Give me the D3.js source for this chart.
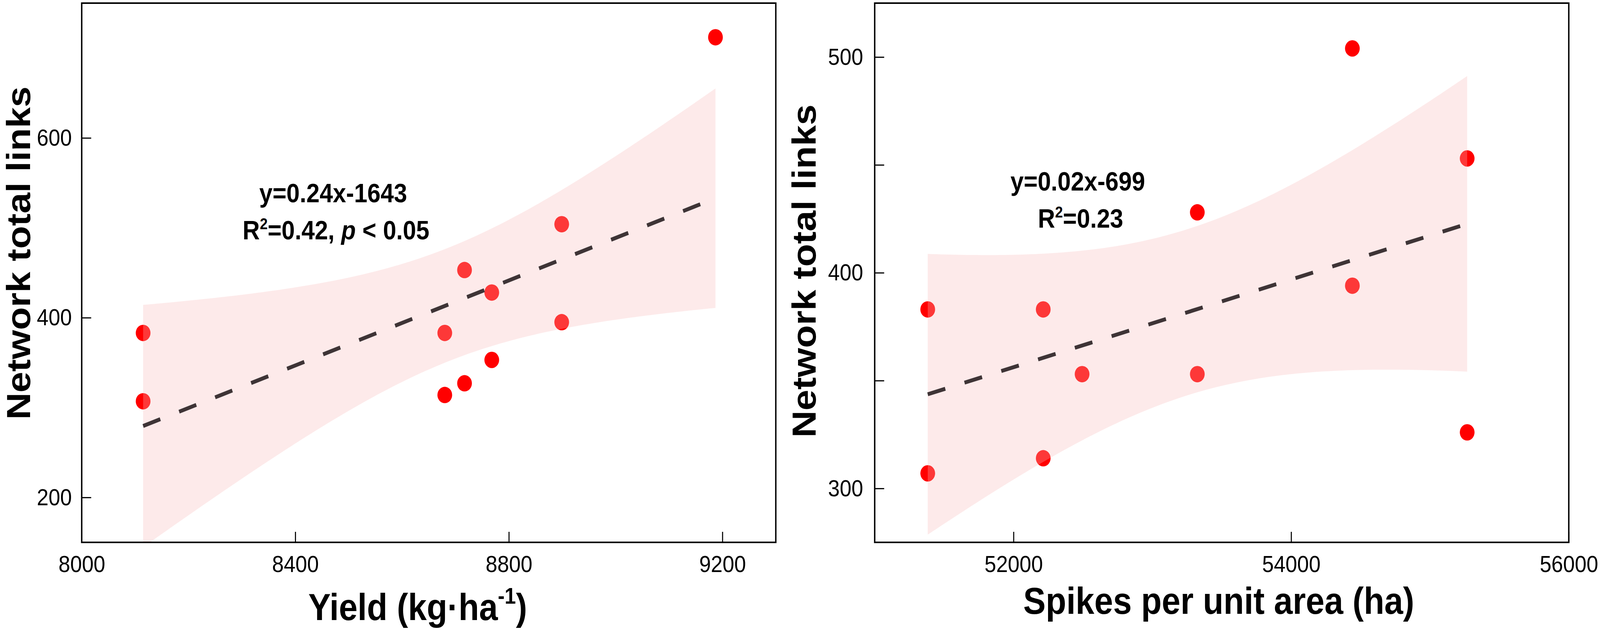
<!DOCTYPE html>
<html>
<head>
<meta charset="utf-8">
<script src="https://cdn.jsdelivr.net/npm/d3@7"></script>
<style>
  html, body { margin: 0; padding: 0; background: #fff; overflow: hidden; }
  svg { display: block; width: 100vw; height: 100vh; }
  text { font-family: "Liberation Sans", Arial, sans-serif; }
</style>
</head>
<body>
<script>
// values
const yieldX = [8115, 8115, 8680, 8680, 8717, 8717, 8768, 8768, 8899, 8899, 9187];
const yieldLinks = [383, 307, 383, 314, 453, 327, 428, 353, 504, 395, 712];
const spikesX = [51382, 51382, 52214, 52214, 52494, 53324, 53324, 54441, 54441, 55268, 55268];
const spikesLinks = [383, 307, 383, 314, 353, 428, 353, 504, 394, 453, 326];

const yieldTicks = [8000, 8400, 8800, 9200];
const linksTicksA = [200, 400, 600];
const spikesTicks = [52000, 54000, 56000];
const linksTicksB = [300, 350, 400, 450, 500];
const linksLabelsB = [300, 400, 500];

const T975 = 2.262; // t quantile, df = 9

const W = 4562, H = 1616;
// stretch the drawing to the whole window
const svg = d3.select("body").append("svg")
  .attr("viewBox", `0 0 ${W} ${H}`)
  .attr("preserveAspectRatio", "none");

// least squares fit + 95% confidence band of the mean
function fit(xs, ys) {
  const n = xs.length;
  const mx = d3.mean(xs), my = d3.mean(ys);
  let sxx = 0, sxy = 0;
  xs.forEach((x, i) => { sxx += (x - mx) ** 2; sxy += (x - mx) * (ys[i] - my); });
  const b = sxy / sxx, a = my - b * mx;
  let sse = 0;
  xs.forEach((x, i) => { sse += (ys[i] - (a + b * x)) ** 2; });
  const s = Math.sqrt(sse / (n - 2));
  return {
    at: x => a + b * x,
    half: x => T975 * s * Math.sqrt(1 / n + (x - mx) ** 2 / sxx)
  };
}

function panel(o) {
  const x = d3.scaleLinear().domain(o.xDomain).range([o.left, o.right]);
  const y = d3.scaleLinear().domain(o.yDomain).range([o.bottom, o.top]);
  const g = svg.append("g");

  g.append("clipPath").attr("id", o.id)
    .append("rect")
    .attr("x", o.left).attr("y", o.top)
    .attr("width", o.right - o.left).attr("height", o.bottom - o.top);

  const f = fit(o.xs, o.ys);
  const [x0, x1] = d3.extent(o.xs);
  const xsBand = d3.range(0, 121).map(i => x0 + (x1 - x0) * i / 120);

  const plot = g.append("g").attr("clip-path", `url(#${o.id})`);

  // points (under the band)
  plot.selectAll("circle").data(o.xs).join("circle")
    .attr("cx", d => x(d))
    .attr("cy", (d, i) => y(o.ys[i]))
    .attr("r", 21)
    .attr("fill", "#ff0000");

  // confidence band
  const area = d3.area()
    .x(d => x(d))
    .y0(d => y(f.at(d) - f.half(d)))
    .y1(d => y(f.at(d) + f.half(d)));
  plot.append("path")
    .attr("d", area(xsBand))
    .attr("fill", "rgb(248,187,187)")
    .attr("fill-opacity", 0.3);

  // fitted line
  plot.append("path")
    .attr("d", d3.line().x(d => x(d)).y(d => y(f.at(d)))([x0, x1]))
    .attr("fill", "none")
    .attr("stroke", "#3e3436")
    .attr("stroke-width", 10)
    .attr("stroke-dasharray", "52,57");

  // axes (ticks point inward)
  const xa = g.append("g").attr("transform", `translate(0,${o.bottom})`)
    .call(d3.axisBottom(x).tickValues(o.xTicks).tickFormat(d3.format("d"))
      .tickSizeInner(-27).tickSizeOuter(0).tickPadding(33));
  const ya = g.append("g").attr("transform", `translate(${o.left},0)`)
    .call(d3.axisLeft(y).tickValues(o.yTicks)
      .tickFormat(d => o.yLabels.includes(d) ? d : "")
      .tickSizeInner(-27).tickSizeOuter(0).tickPadding(o.yPad));
  [xa, ya].forEach(a => {
    a.select(".domain").remove();
    a.selectAll(".tick line").attr("stroke", "#000").attr("stroke-width", 3);
    a.selectAll(".tick text").attr("font-size", 60).attr("fill", "#000");
  });

  // frame
  g.append("rect")
    .attr("x", o.left).attr("y", o.top)
    .attr("width", o.right - o.left).attr("height", o.bottom - o.top)
    .attr("fill", "none").attr("stroke", "#000").attr("stroke-width", 4);

  // axis titles
  g.append("text")
    .attr("transform", `translate(${o.yTitleX},${o.yTitleY}) rotate(-90)`)
    .attr("text-anchor", "middle")
    .attr("font-size", 96).attr("font-weight", "bold")
    .text("Network total links");

  const xt = g.append("text")
    .attr("x", o.xTitleX).attr("y", o.xTitleY)
    .attr("text-anchor", "middle")
    .attr("font-size", 96).attr("font-weight", "bold");
  o.xTitle(xt);

  // equation text
  const eq = g.append("g").attr("font-weight", "bold").attr("font-size", 68)
    .attr("text-anchor", "middle");
  eq.append("text").attr("x", o.eqX).attr("y", o.eqY).text(o.eqText);
  const r2 = eq.append("text").attr("x", o.eqX + 8).attr("y", o.eqY + 95);
  r2.append("tspan").text("R");
  r2.append("tspan").attr("font-size", 40).attr("dy", -26).text("2");
  r2.append("tspan").attr("dy", 26).text(o.r2Text);
  if (o.pText) {
    r2.append("tspan").text(", ");
    r2.append("tspan").attr("font-style", "italic").text("p");
    r2.append("tspan").text(o.pText);
  }
}

panel({
  id: "clipA",
  xs: yieldX, ys: yieldLinks,
  xDomain: [8000, 9300], yDomain: [150, 750],
  left: 233, right: 2212, top: 8, bottom: 1389,
  xTicks: yieldTicks, yTicks: linksTicksA, yLabels: linksTicksA, yPad: 28,
  yTitleX: 86, yTitleY: 648,
  xTitleX: 1191, xTitleY: 1588,
  xTitle: t => {
    t.append("tspan").text("Yield (kg\u00b7ha");
    t.append("tspan").attr("font-size", 58).attr("dy", -42).text("-1");
    t.append("tspan").attr("dy", 42).text(")");
  },
  eqX: 950, eqY: 518, eqText: "y=0.24x-1643",
  r2Text: "=0.42", pText: " < 0.05"
});

panel({
  id: "clipB",
  xs: spikesX, ys: spikesLinks,
  xDomain: [51000, 56000], yDomain: [275, 525],
  left: 2494, right: 4473, top: 8, bottom: 1389,
  xTicks: spikesTicks, yTicks: linksTicksB, yLabels: linksLabelsB, yPad: 33,
  yTitleX: 2325, yTitleY: 694,
  xTitleX: 3475, xTitleY: 1572,
  xTitle: t => t.text("Spikes per unit area (ha)"),
  eqX: 3073, eqY: 488, eqText: "y=0.02x-699",
  r2Text: "=0.23", pText: null
});
</script>
</body>
</html>
